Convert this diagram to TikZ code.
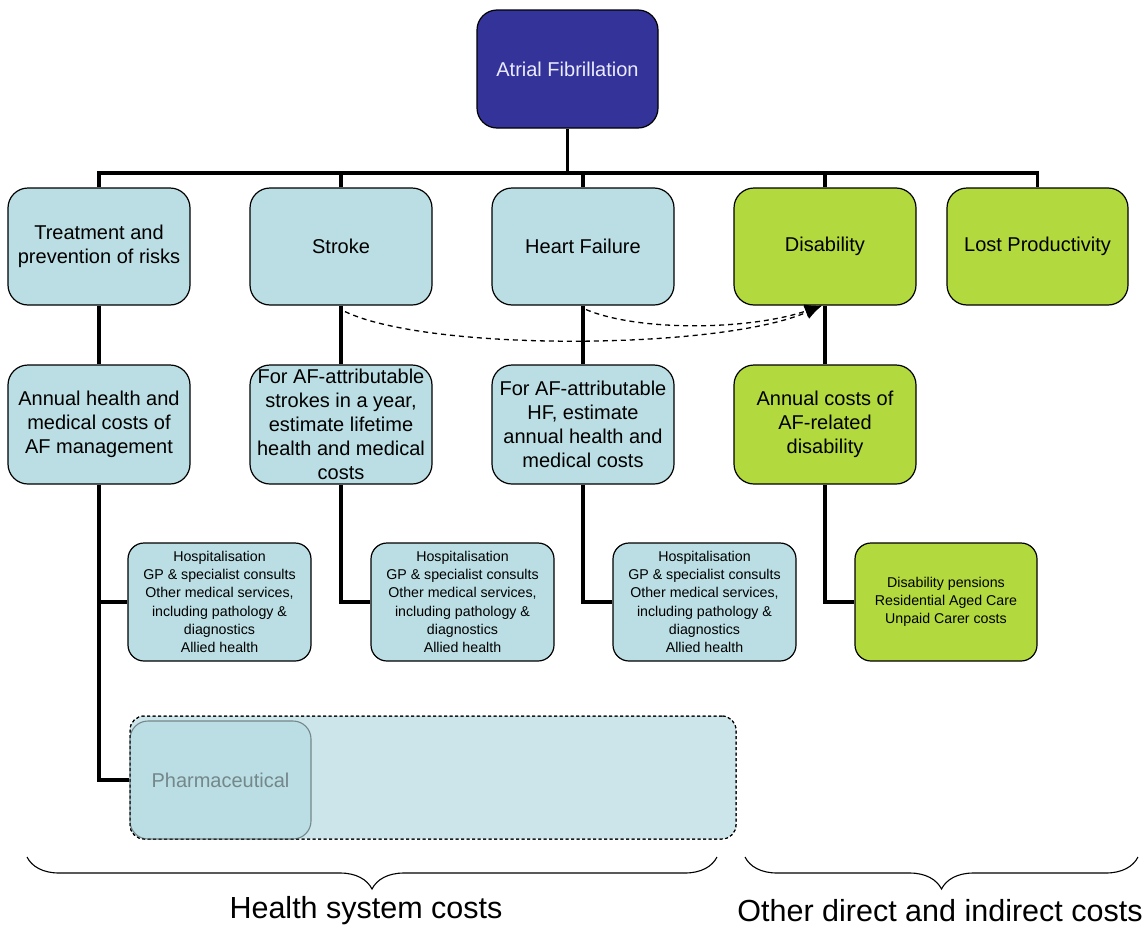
\documentclass[tikz,border=0pt]{standalone}
\usepackage{fontspec}
\setmainfont{Liberation Sans}
\usetikzlibrary{arrows.meta,decorations.pathreplacing}
\definecolor{afblue}{HTML}{333399}
\definecolor{lblue}{HTML}{BADEE3}
\definecolor{lgreen}{HTML}{B2D93E}
\definecolor{pbg}{HTML}{CBE5EA}
\definecolor{pgrey}{HTML}{74878B}
\tikzset{
  bigbox/.style={draw, line width=1.2pt, rounded corners=20pt, minimum width=182pt, minimum height=117pt, align=center, inner sep=1pt, font=\fontsize{20}{24}\selectfont},
  smallbox/.style={draw, line width=1.2pt, rounded corners=16pt, minimum width=183pt, minimum height=118pt, align=center, inner sep=1pt, font=\fontsize{14.2}{18.3}\selectfont},
  hs/.style={fill=lblue},
  ds/.style={fill=lgreen},
  conn/.style={line width=3.3pt},
  dconn/.style={dashed, line width=1.3pt, dash pattern=on 5pt off 4pt},
  bracestyle/.style={decorate, line width=1.1pt, decoration={brace, mirror, amplitude=32pt}},
  caption/.style={font=\fontsize{30.5}{34}\selectfont}
}
\begin{document}
\begin{tikzpicture}[x=1pt,y=-1pt]
\useasboundingbox (0,0) rectangle (1144,929);
% top
\node[bigbox, fill=afblue, text=white!92!blue, minimum width=181pt, minimum height=118pt] (af) at (567.5,69) {Atrial Fibrillation};
% row 1
\node[bigbox, hs] (tr) at (99,246.5) {Treatment and\\prevention of risks};
\node[bigbox, hs] (st) at (341,246.5) {Stroke};
\node[bigbox, hs] (hf) at (583,246.5) {Heart Failure};
\node[bigbox, ds] (di) at (825,246.5) {Disability};
\node[bigbox, ds, minimum width=181pt] (lp) at (1037.5,246.5) {Lost Productivity};
% row 2
\node[bigbox, hs, minimum height=119pt] (tr2) at (99,424.5) {Annual health and\\medical costs of\\AF management};
\node[bigbox, hs, minimum height=119pt] (st2) at (341,424.5) {For AF-attributable\\strokes in a year,\\estimate lifetime\\health and medical\\costs};
\node[bigbox, hs, minimum height=119pt] (hf2) at (583,424.5) {For AF-attributable\\HF, estimate\\annual health and\\medical costs};
\node[bigbox, ds, minimum height=119pt] (di2) at (825,424.5) {Annual costs of\\AF-related\\disability};
% row 3
\node[smallbox, hs] (a3) at (219.5,602) {Hospitalisation\\GP \& specialist consults\\Other medical services,\\including pathology \&\\diagnostics\\Allied health};
\node[smallbox, hs] (b3) at (462.5,602) {Hospitalisation\\GP \& specialist consults\\Other medical services,\\including pathology \&\\diagnostics\\Allied health};
\node[smallbox, hs] (c3) at (704.5,602) {Hospitalisation\\GP \& specialist consults\\Other medical services,\\including pathology \&\\diagnostics\\Allied health};
\node[smallbox, ds, minimum width=182pt] (d3) at (946,602) {Disability pensions\\Residential Aged Care\\Unpaid Carer costs};
% pharmaceutical
\node[draw, dashed, line width=1pt, dash pattern=on 3pt off 2.5pt, fill=pbg, rounded corners=14pt, minimum width=606pt, minimum height=123pt] (pbgbox) at (433,777.5) {};
\node[draw=pgrey, line width=1.1pt, fill=lblue, rounded corners=18pt, minimum width=181pt, minimum height=118pt, text=pgrey, font=\fontsize{20}{24}\selectfont] (ph) at (220.5,780) {Pharmaceutical};
\node[draw, dashed, line width=1pt, dash pattern=on 3pt off 2.5pt, rounded corners=14pt, minimum width=606pt, minimum height=123pt] at (pbgbox) {};
% bus
\coordinate (bus) at (567.5,173);
\draw[conn] (af.south) -- (bus);
\draw[conn] (tr.north) |- (bus) -| (lp.north);
\draw[conn] (st.north) -- (st.north |- bus);
\draw[conn] (hf.north) -- (hf.north |- bus);
\draw[conn] (di.north) -- (di.north |- bus);
% verticals
\draw[conn] (tr.south) -- (tr2.north);
\draw[conn] (st.south) -- (st2.north);
\draw[conn] (hf.south) -- (hf2.north);
\draw[conn] (di.south) -- (di2.north);
\draw[conn] (tr2.south) |- (ph.west);
\draw[conn] (tr2.south |- a3.west) -- (a3.west);
\draw[conn] (st2.south) |- (b3.west);
\draw[conn] (hf2.south) |- (c3.west);
\draw[conn] (di2.south) |- (d3.west);
% dashed arrows
\coordinate (tip) at ([xshift=-3pt]di.south);
\draw[dconn, -{Latex[length=17pt,width=14pt]}] ([xshift=4pt,yshift=-6pt]st.south) .. controls (430,352) and (720,350) .. (tip);
\draw[dconn, -{Latex[length=17pt,width=14pt]}] ([xshift=3pt,yshift=-4pt]hf.south) .. controls (640,332) and (750,330) .. (tip);
% braces
\coordinate (b1s) at (27,857);
\coordinate (b1e) at (717,857);
\coordinate (b2s) at (745,857);
\coordinate (b2e) at (1138,857);
\draw[bracestyle] (b1s) -- (b1e);
\draw[bracestyle] (b2s) -- (b2e);
\node[caption] (c1) at (366,911) {Health system costs};
\node[caption] (c2) at (940,911) {Other direct and indirect costs};
\end{tikzpicture}
\end{document}
